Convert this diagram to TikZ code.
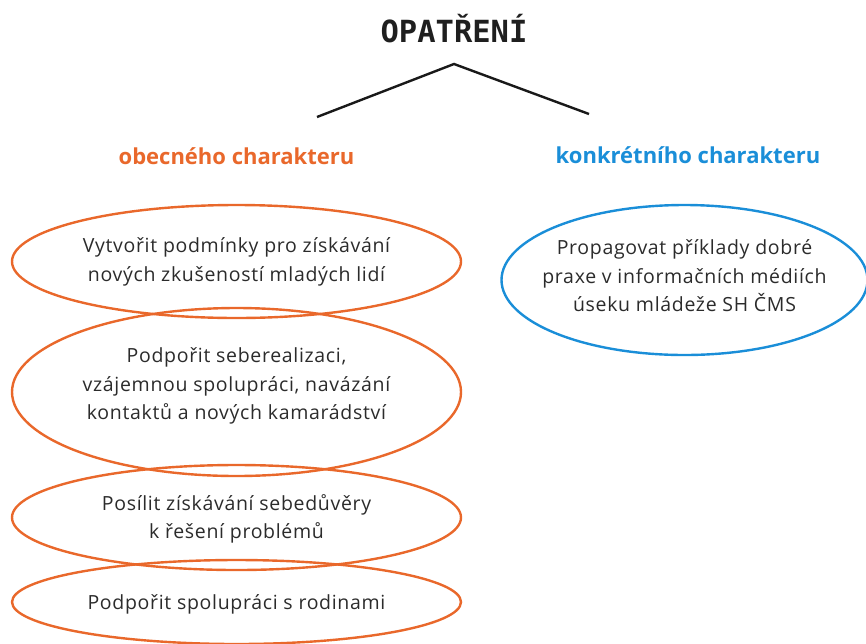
\documentclass[tikz,border=0pt]{standalone}
\usepackage{fontspec}
\setmainfont{Open Sans}
\newfontfamily\bodyfont[LetterSpace=3.5]{Open Sans}
\newfontfamily\titlefont{DejaVu Sans Mono}
\usetikzlibrary{shapes.geometric}
\definecolor{orng}{HTML}{E9682B}
\definecolor{blu}{HTML}{1A8ED8}
\definecolor{txt}{HTML}{2B2B2B}
\tikzset{
  oval/.style={draw, ellipse, line width=2.4pt, inner sep=0pt},
  ovalO/.style={oval, draw=orng},
  ovalB/.style={oval, draw=blu},
  body/.style={text=txt, align=center, font=\bodyfont\fontsize{19.5}{28.5}\selectfont, inner sep=0pt},
  head/.style={font=\bfseries\fontsize{22}{24}\selectfont, inner sep=0pt},
  branch/.style={line width=2.4pt, draw=black!90}
}
\begin{document}
\begin{tikzpicture}[x=1pt,y=-1pt]
\useasboundingbox (0,0) rectangle (866,643);
\node[font=\titlefont\bfseries\fontsize{30.5}{32}\selectfont, text=black!88, inner sep=0pt] (title) at (454,29) {OPATŘENÍ};
\coordinate (apex) at (454,64);
\coordinate (lend) at (317,117);
\coordinate (rend) at (589,114);
\draw[branch] (lend) -- (apex) -- (rend);
\node[head, text=orng] (hobec) at (236.5,156) {obecného charakteru};
\node[head, text=blu] (hkonk) at (688,155) {konkrétního charakteru};
% orange ellipses
\node[ovalO, minimum width=449pt, minimum height=113pt] (e1) at (236.5,261.5) {};
\node[ovalO, minimum width=449pt, minimum height=168pt] (e2) at (236.5,392) {};
\node[ovalO, minimum width=449pt, minimum height=105pt] (e3) at (236.5,517.5) {};
\node[ovalO, minimum width=449pt, minimum height=84pt] (e4) at (236.5,602) {};
\node[body] (t1) at (236.5,262) {Vytvořit podmínky pro získávání\\nových zkušeností mladých lidí};
\node[body] (t2) at (236.5,386) {Podpořit seberealizaci,\\vzájemnou spolupráci, navázání\\kontaktů a nových kamarádství};
\node[body] (t3) at (236.5,519) {Posílit získávání sebedůvěry\\k řešení problémů};
\node[body] (t4) at (236.5,604) {Podpořit spolupráci s rodinami};
% blue ellipse
\node[ovalB, minimum width=366pt, minimum height=150pt] (e5) at (684.5,280) {};
\node[body] (t5) at (684.5,276) {Propagovat příklady dobré\\praxe v informačních médiích\\úseku mládeže SH ČMS};
\end{tikzpicture}
\end{document}
